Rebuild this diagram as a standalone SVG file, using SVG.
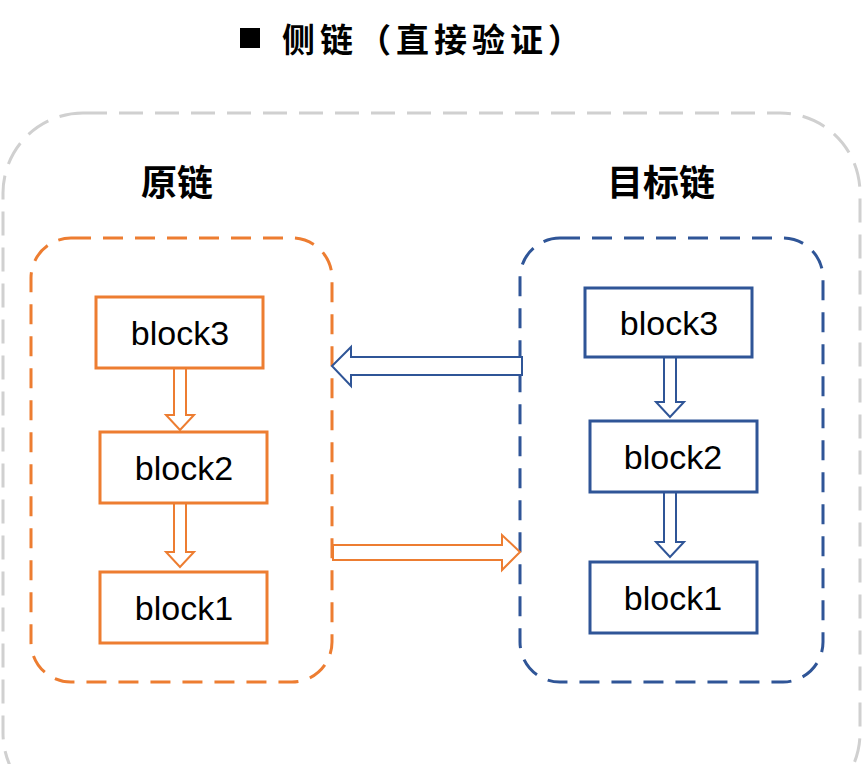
<svg xmlns="http://www.w3.org/2000/svg" width="864" height="764" viewBox="0 0 864 764">
<style>
text{font-family:"Liberation Sans","Noto Sans CJK SC",sans-serif}
.t{font-size:36px;font-weight:bold;fill:#000}
.b{font-size:34px;fill:#000;text-anchor:middle}
.o{fill:#fff;stroke:#ED7D31;stroke-width:3}
.u{fill:#fff;stroke:#2F5597;stroke-width:3}
.ao{fill:#fff;stroke:#ED7D31;stroke-width:2}
.au{fill:#fff;stroke:#2F5597;stroke-width:2}
</style>
<rect width="864" height="764" fill="#fff"/>
<rect x="3" y="113" width="857" height="700" rx="80" fill="none" stroke="#D0D0D0" stroke-width="3" stroke-dasharray="24,12"/>
<rect x="240" y="28" width="20" height="20" fill="#000"/>
<text class="t" x="282" y="52" style="font-size:33px;letter-spacing:5px">侧链（直接验证）</text>
<g id="src"><rect x="31" y="238" width="301" height="444" rx="40" fill="none" stroke="#ED7D31" stroke-width="3" stroke-dasharray="20,12"/>
<text class="t" x="141" y="196">原链</text></g>
<g id="dst"><rect x="520" y="238" width="303" height="444" rx="40" fill="none" stroke="#2F5597" stroke-width="3" stroke-dasharray="20,12"/>
<text class="t" x="607" y="196">目标链</text></g>
<g id="connectors">
<path class="ao" d="M174,368H186V415H194L180,430L166,415H174Z"/>
<path class="ao" d="M174,503H186V552H194L180,567L166,552H174Z"/>
<path class="au" d="M664,357H676V402H684L670,417L656,402H664Z"/>
<path class="au" d="M664,492H676V542H684L670,557L656,542H664Z"/>
<path class="au" d="M522,357V375H351V386L332,366L351,347V357Z"/>
<path class="ao" d="M333,545H502V535L520,552L502,570V560H333Z"/>
</g>
<g id="o3"><rect class="o" x="96" y="297" width="167" height="71"/><text class="b" x="180" y="345">block3</text></g>
<g id="o2"><rect class="o" x="100" y="432" width="167" height="71"/><text class="b" x="184" y="480">block2</text></g>
<g id="o1"><rect class="o" x="100" y="572" width="167" height="71"/><text class="b" x="184" y="620">block1</text></g>
<g id="u3"><rect class="u" x="585" y="288" width="167" height="69"/><text class="b" x="669" y="335">block3</text></g>
<g id="u2"><rect class="u" x="590" y="421" width="167" height="71"/><text class="b" x="673" y="469">block2</text></g>
<g id="u1"><rect class="u" x="590" y="562" width="167" height="71"/><text class="b" x="673" y="610">block1</text></g>
</svg>
